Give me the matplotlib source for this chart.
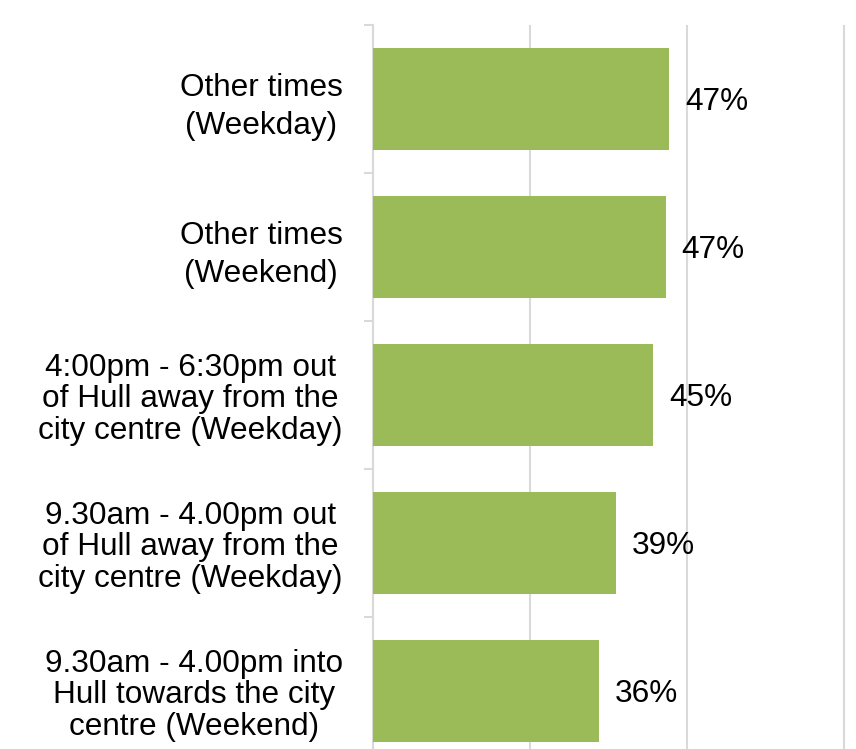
import matplotlib
matplotlib.use("Agg")
import matplotlib.pyplot as plt
import numpy as np

categories = [
    "Other times\n(Weekday)",
    "Other times\n(Weekend)",
    "4:00pm - 6:30pm out\nof Hull away from the\ncity centre (Weekday)",
    "9.30am - 4.00pm out\nof Hull away from the\ncity centre (Weekday)",
    "9.30am - 4.00pm into\nHull towards the city\ncentre (Weekend)",
]
values = [0.472, 0.467, 0.447, 0.388, 0.361]
value_labels = ["47%", "47%", "45%", "39%", "36%"]
xticks = [0, 0.25, 0.5, 0.75]

plt.rcParams['font.family'] = ['Liberation Sans', 'DejaVu Sans']

W, H = 856, 749
fig = plt.figure(figsize=(W / 100, H / 100), dpi=100)
left_px, top_px, bottom_px = 372.5, 25, 765
unit_px = 628.0
xmax = 0.8
ax = fig.add_axes([left_px / W, 1 - bottom_px / H, xmax * unit_px / W, (bottom_px - top_px) / H])

n = len(categories)
ypos = np.arange(n)
ax.barh(ypos, values, height=0.69, color="#9BBB59", zorder=3)
ax.set_ylim(n - 0.5, -0.5)
ax.set_xlim(0, xmax)

FS = 22.7
for y, v, lab in zip(ypos, values, value_labels):
    ax.annotate(lab, xy=(v, y), xytext=(11.5, -2), textcoords="offset points",
                ha="left", va="center", fontsize=FS, color="black", zorder=4)

ax.set_xticks(xticks)
ax.tick_params(axis='x', length=0, labelbottom=False)
ax.grid(axis='x', color="#d9d9d9", linewidth=1.5, zorder=0)

ax.set_yticks(ypos)
labels = ax.set_yticklabels(categories, fontsize=FS, multialignment='center', linespacing=1.08)
for t in labels:
    if t.get_text().count("\n") == 1:
        t.set_linespacing(1.36)
ax.set_yticks(np.arange(-0.5, n, 1.0), minor=True)
ax.tick_params(axis='y', which='major', length=0, pad=21.5)
ax.tick_params(axis='y', which='minor', length=6.5, width=1.5, color="#d9d9d9")

for s in ['top', 'right', 'bottom']:
    ax.spines[s].set_visible(False)
ax.spines['left'].set_color("#d9d9d9")
ax.spines['left'].set_linewidth(1.5)

fig.savefig("out.png", dpi=100)
